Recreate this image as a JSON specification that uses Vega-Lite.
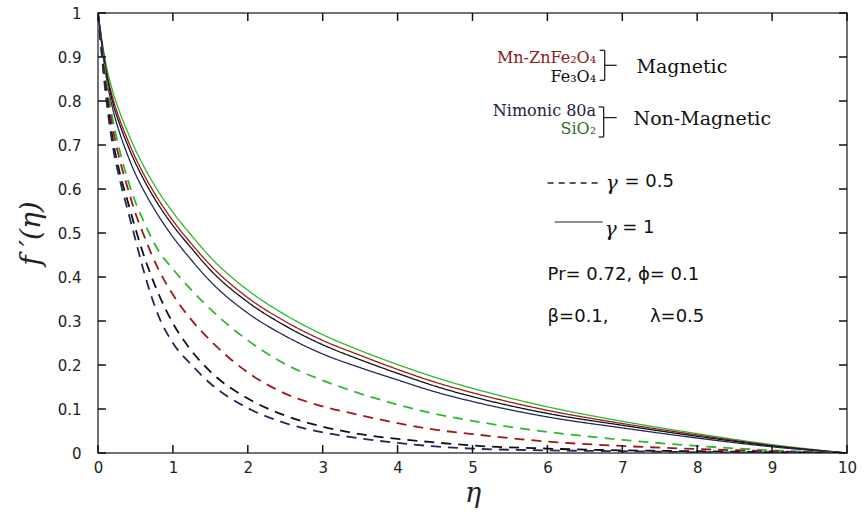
{
  "$schema": "https://vega.github.io/schema/vega-lite/v6.json",
  "width": 749,
  "height": 440,
  "autosize": "none",
  "padding": {"left": 98, "top": 13, "right": 18, "bottom": 62},
  "background": "white",
  "config": {
    "view": {"stroke": "#444", "strokeWidth": 1.5},
    "axis": {"labelFlush": false, "grid": false, "domain": false}
  },
  "datasets": {
    "xticks": [{"t":0},{"t":1},{"t":2},{"t":3},{"t":4},{"t":5},{"t":6},{"t":7},{"t":8},{"t":9},{"t":10}],
    "yticks": [{"t":0},{"t":0.1},{"t":0.2},{"t":0.3},{"t":0.4},{"t":0.5},{"t":0.6},{"t":0.7},{"t":0.8},{"t":0.9},{"t":1}],
    "curves": [
      {"m":"SiO2","g":1,"eta":0,"fp":1},{"m":"SiO2","g":1,"eta":0.1,"fp":0.89},{"m":"SiO2","g":1,"eta":0.2,"fp":0.82},{"m":"SiO2","g":1,"eta":0.3,"fp":0.77},{"m":"SiO2","g":1,"eta":0.4,"fp":0.728},{"m":"SiO2","g":1,"eta":0.5,"fp":0.689},{"m":"SiO2","g":1,"eta":0.6,"fp":0.655},{"m":"SiO2","g":1,"eta":0.8,"fp":0.596},{"m":"SiO2","g":1,"eta":1,"fp":0.547},{"m":"SiO2","g":1,"eta":1.25,"fp":0.494},{"m":"SiO2","g":1,"eta":1.5,"fp":0.445},{"m":"SiO2","g":1,"eta":2,"fp":0.37},{"m":"SiO2","g":1,"eta":2.5,"fp":0.314},{"m":"SiO2","g":1,"eta":3,"fp":0.269},{"m":"SiO2","g":1,"eta":3.5,"fp":0.233},{"m":"SiO2","g":1,"eta":4,"fp":0.201},{"m":"SiO2","g":1,"eta":4.5,"fp":0.172},{"m":"SiO2","g":1,"eta":5,"fp":0.147},{"m":"SiO2","g":1,"eta":6,"fp":0.105},{"m":"SiO2","g":1,"eta":7,"fp":0.072},{"m":"SiO2","g":1,"eta":8,"fp":0.044},{"m":"SiO2","g":1,"eta":9,"fp":0.019},{"m":"SiO2","g":1,"eta":10,"fp":0},
      {"m":"Mn-ZnFe2O4","g":1,"eta":0,"fp":1},{"m":"Mn-ZnFe2O4","g":1,"eta":0.1,"fp":0.88},{"m":"Mn-ZnFe2O4","g":1,"eta":0.2,"fp":0.805},{"m":"Mn-ZnFe2O4","g":1,"eta":0.3,"fp":0.753},{"m":"Mn-ZnFe2O4","g":1,"eta":0.4,"fp":0.71},{"m":"Mn-ZnFe2O4","g":1,"eta":0.5,"fp":0.671},{"m":"Mn-ZnFe2O4","g":1,"eta":0.6,"fp":0.637},{"m":"Mn-ZnFe2O4","g":1,"eta":0.8,"fp":0.578},{"m":"Mn-ZnFe2O4","g":1,"eta":1,"fp":0.528},{"m":"Mn-ZnFe2O4","g":1,"eta":1.25,"fp":0.475},{"m":"Mn-ZnFe2O4","g":1,"eta":1.5,"fp":0.427},{"m":"Mn-ZnFe2O4","g":1,"eta":2,"fp":0.353},{"m":"Mn-ZnFe2O4","g":1,"eta":2.5,"fp":0.299},{"m":"Mn-ZnFe2O4","g":1,"eta":3,"fp":0.256},{"m":"Mn-ZnFe2O4","g":1,"eta":3.5,"fp":0.222},{"m":"Mn-ZnFe2O4","g":1,"eta":4,"fp":0.19},{"m":"Mn-ZnFe2O4","g":1,"eta":4.5,"fp":0.161},{"m":"Mn-ZnFe2O4","g":1,"eta":5,"fp":0.137},{"m":"Mn-ZnFe2O4","g":1,"eta":6,"fp":0.097},{"m":"Mn-ZnFe2O4","g":1,"eta":7,"fp":0.067},{"m":"Mn-ZnFe2O4","g":1,"eta":8,"fp":0.041},{"m":"Mn-ZnFe2O4","g":1,"eta":9,"fp":0.017},{"m":"Mn-ZnFe2O4","g":1,"eta":10,"fp":0},
      {"m":"Fe3O4","g":1,"eta":0,"fp":1},{"m":"Fe3O4","g":1,"eta":0.1,"fp":0.875},{"m":"Fe3O4","g":1,"eta":0.2,"fp":0.795},{"m":"Fe3O4","g":1,"eta":0.3,"fp":0.742},{"m":"Fe3O4","g":1,"eta":0.4,"fp":0.698},{"m":"Fe3O4","g":1,"eta":0.5,"fp":0.659},{"m":"Fe3O4","g":1,"eta":0.6,"fp":0.625},{"m":"Fe3O4","g":1,"eta":0.8,"fp":0.566},{"m":"Fe3O4","g":1,"eta":1,"fp":0.517},{"m":"Fe3O4","g":1,"eta":1.25,"fp":0.465},{"m":"Fe3O4","g":1,"eta":1.5,"fp":0.416},{"m":"Fe3O4","g":1,"eta":2,"fp":0.343},{"m":"Fe3O4","g":1,"eta":2.5,"fp":0.289},{"m":"Fe3O4","g":1,"eta":3,"fp":0.246},{"m":"Fe3O4","g":1,"eta":3.5,"fp":0.212},{"m":"Fe3O4","g":1,"eta":4,"fp":0.181},{"m":"Fe3O4","g":1,"eta":4.5,"fp":0.152},{"m":"Fe3O4","g":1,"eta":5,"fp":0.128},{"m":"Fe3O4","g":1,"eta":6,"fp":0.09},{"m":"Fe3O4","g":1,"eta":7,"fp":0.063},{"m":"Fe3O4","g":1,"eta":8,"fp":0.038},{"m":"Fe3O4","g":1,"eta":9,"fp":0.016},{"m":"Fe3O4","g":1,"eta":10,"fp":0},
      {"m":"Nimonic 80a","g":1,"eta":0,"fp":1},{"m":"Nimonic 80a","g":1,"eta":0.1,"fp":0.865},{"m":"Nimonic 80a","g":1,"eta":0.2,"fp":0.78},{"m":"Nimonic 80a","g":1,"eta":0.3,"fp":0.722},{"m":"Nimonic 80a","g":1,"eta":0.4,"fp":0.675},{"m":"Nimonic 80a","g":1,"eta":0.5,"fp":0.634},{"m":"Nimonic 80a","g":1,"eta":0.6,"fp":0.6},{"m":"Nimonic 80a","g":1,"eta":0.8,"fp":0.541},{"m":"Nimonic 80a","g":1,"eta":1,"fp":0.491},{"m":"Nimonic 80a","g":1,"eta":1.25,"fp":0.438},{"m":"Nimonic 80a","g":1,"eta":1.5,"fp":0.39},{"m":"Nimonic 80a","g":1,"eta":2,"fp":0.318},{"m":"Nimonic 80a","g":1,"eta":2.5,"fp":0.266},{"m":"Nimonic 80a","g":1,"eta":3,"fp":0.225},{"m":"Nimonic 80a","g":1,"eta":3.5,"fp":0.194},{"m":"Nimonic 80a","g":1,"eta":4,"fp":0.166},{"m":"Nimonic 80a","g":1,"eta":4.5,"fp":0.139},{"m":"Nimonic 80a","g":1,"eta":5,"fp":0.117},{"m":"Nimonic 80a","g":1,"eta":6,"fp":0.082},{"m":"Nimonic 80a","g":1,"eta":7,"fp":0.057},{"m":"Nimonic 80a","g":1,"eta":8,"fp":0.034},{"m":"Nimonic 80a","g":1,"eta":9,"fp":0.014},{"m":"Nimonic 80a","g":1,"eta":10,"fp":0},
      {"m":"SiO2","g":0.5,"eta":0,"fp":1},{"m":"SiO2","g":0.5,"eta":0.1,"fp":0.86},{"m":"SiO2","g":0.5,"eta":0.2,"fp":0.755},{"m":"SiO2","g":0.5,"eta":0.3,"fp":0.68},{"m":"SiO2","g":0.5,"eta":0.4,"fp":0.62},{"m":"SiO2","g":0.5,"eta":0.5,"fp":0.57},{"m":"SiO2","g":0.5,"eta":0.6,"fp":0.53},{"m":"SiO2","g":0.5,"eta":0.8,"fp":0.462},{"m":"SiO2","g":0.5,"eta":1,"fp":0.418},{"m":"SiO2","g":0.5,"eta":1.25,"fp":0.37},{"m":"SiO2","g":0.5,"eta":1.5,"fp":0.327},{"m":"SiO2","g":0.5,"eta":2,"fp":0.256},{"m":"SiO2","g":0.5,"eta":2.5,"fp":0.202},{"m":"SiO2","g":0.5,"eta":3,"fp":0.165},{"m":"SiO2","g":0.5,"eta":3.5,"fp":0.135},{"m":"SiO2","g":0.5,"eta":4,"fp":0.11},{"m":"SiO2","g":0.5,"eta":4.5,"fp":0.089},{"m":"SiO2","g":0.5,"eta":5,"fp":0.073},{"m":"SiO2","g":0.5,"eta":6,"fp":0.048},{"m":"SiO2","g":0.5,"eta":7,"fp":0.03},{"m":"SiO2","g":0.5,"eta":8,"fp":0.016},{"m":"SiO2","g":0.5,"eta":9,"fp":0.006},{"m":"SiO2","g":0.5,"eta":10,"fp":0},
      {"m":"Mn-ZnFe2O4","g":0.5,"eta":0,"fp":1},{"m":"Mn-ZnFe2O4","g":0.5,"eta":0.1,"fp":0.845},{"m":"Mn-ZnFe2O4","g":0.5,"eta":0.2,"fp":0.735},{"m":"Mn-ZnFe2O4","g":0.5,"eta":0.3,"fp":0.66},{"m":"Mn-ZnFe2O4","g":0.5,"eta":0.4,"fp":0.6},{"m":"Mn-ZnFe2O4","g":0.5,"eta":0.5,"fp":0.545},{"m":"Mn-ZnFe2O4","g":0.5,"eta":0.6,"fp":0.5},{"m":"Mn-ZnFe2O4","g":0.5,"eta":0.8,"fp":0.42},{"m":"Mn-ZnFe2O4","g":0.5,"eta":1,"fp":0.36},{"m":"Mn-ZnFe2O4","g":0.5,"eta":1.25,"fp":0.302},{"m":"Mn-ZnFe2O4","g":0.5,"eta":1.5,"fp":0.256},{"m":"Mn-ZnFe2O4","g":0.5,"eta":2,"fp":0.183},{"m":"Mn-ZnFe2O4","g":0.5,"eta":2.5,"fp":0.135},{"m":"Mn-ZnFe2O4","g":0.5,"eta":3,"fp":0.106},{"m":"Mn-ZnFe2O4","g":0.5,"eta":3.5,"fp":0.086},{"m":"Mn-ZnFe2O4","g":0.5,"eta":4,"fp":0.068},{"m":"Mn-ZnFe2O4","g":0.5,"eta":4.5,"fp":0.053},{"m":"Mn-ZnFe2O4","g":0.5,"eta":5,"fp":0.043},{"m":"Mn-ZnFe2O4","g":0.5,"eta":6,"fp":0.026},{"m":"Mn-ZnFe2O4","g":0.5,"eta":7,"fp":0.016},{"m":"Mn-ZnFe2O4","g":0.5,"eta":8,"fp":0.009},{"m":"Mn-ZnFe2O4","g":0.5,"eta":9,"fp":0.004},{"m":"Mn-ZnFe2O4","g":0.5,"eta":10,"fp":0},
      {"m":"Fe3O4","g":0.5,"eta":0,"fp":1},{"m":"Fe3O4","g":0.5,"eta":0.1,"fp":0.83},{"m":"Fe3O4","g":0.5,"eta":0.2,"fp":0.71},{"m":"Fe3O4","g":0.5,"eta":0.3,"fp":0.63},{"m":"Fe3O4","g":0.5,"eta":0.4,"fp":0.57},{"m":"Fe3O4","g":0.5,"eta":0.5,"fp":0.51},{"m":"Fe3O4","g":0.5,"eta":0.6,"fp":0.455},{"m":"Fe3O4","g":0.5,"eta":0.8,"fp":0.365},{"m":"Fe3O4","g":0.5,"eta":1,"fp":0.295},{"m":"Fe3O4","g":0.5,"eta":1.25,"fp":0.232},{"m":"Fe3O4","g":0.5,"eta":1.5,"fp":0.185},{"m":"Fe3O4","g":0.5,"eta":2,"fp":0.124},{"m":"Fe3O4","g":0.5,"eta":2.5,"fp":0.085},{"m":"Fe3O4","g":0.5,"eta":3,"fp":0.06},{"m":"Fe3O4","g":0.5,"eta":3.5,"fp":0.043},{"m":"Fe3O4","g":0.5,"eta":4,"fp":0.032},{"m":"Fe3O4","g":0.5,"eta":4.5,"fp":0.024},{"m":"Fe3O4","g":0.5,"eta":5,"fp":0.017},{"m":"Fe3O4","g":0.5,"eta":6,"fp":0.01},{"m":"Fe3O4","g":0.5,"eta":7,"fp":0.006},{"m":"Fe3O4","g":0.5,"eta":8,"fp":0.004},{"m":"Fe3O4","g":0.5,"eta":9,"fp":0.002},{"m":"Fe3O4","g":0.5,"eta":10,"fp":0},
      {"m":"Nimonic 80a","g":0.5,"eta":0,"fp":1},{"m":"Nimonic 80a","g":0.5,"eta":0.1,"fp":0.82},{"m":"Nimonic 80a","g":0.5,"eta":0.2,"fp":0.695},{"m":"Nimonic 80a","g":0.5,"eta":0.3,"fp":0.615},{"m":"Nimonic 80a","g":0.5,"eta":0.4,"fp":0.55},{"m":"Nimonic 80a","g":0.5,"eta":0.5,"fp":0.485},{"m":"Nimonic 80a","g":0.5,"eta":0.6,"fp":0.42},{"m":"Nimonic 80a","g":0.5,"eta":0.8,"fp":0.315},{"m":"Nimonic 80a","g":0.5,"eta":1,"fp":0.25},{"m":"Nimonic 80a","g":0.5,"eta":1.25,"fp":0.2},{"m":"Nimonic 80a","g":0.5,"eta":1.5,"fp":0.158},{"m":"Nimonic 80a","g":0.5,"eta":2,"fp":0.102},{"m":"Nimonic 80a","g":0.5,"eta":2.5,"fp":0.068},{"m":"Nimonic 80a","g":0.5,"eta":3,"fp":0.047},{"m":"Nimonic 80a","g":0.5,"eta":3.5,"fp":0.033},{"m":"Nimonic 80a","g":0.5,"eta":4,"fp":0.023},{"m":"Nimonic 80a","g":0.5,"eta":4.5,"fp":0.015},{"m":"Nimonic 80a","g":0.5,"eta":5,"fp":0.01},{"m":"Nimonic 80a","g":0.5,"eta":6,"fp":0.006},{"m":"Nimonic 80a","g":0.5,"eta":7,"fp":0.004},{"m":"Nimonic 80a","g":0.5,"eta":8,"fp":0.002},{"m":"Nimonic 80a","g":0.5,"eta":9,"fp":0.001},{"m":"Nimonic 80a","g":0.5,"eta":10,"fp":0}
    ]
  },
  "layer": [
    {
      "data": {"name": "curves"},
      "mark": {"type": "line", "interpolate": "monotone", "clip": true},
      "encoding": {
        "x": {"field": "eta", "type": "quantitative",
          "scale": {"domain": [0, 10], "nice": false, "zero": false},
          "axis": {"orient": "bottom", "values": [0,1,2,3,4,5,6,7,8,9,10], "format": "d",
            "title": "η", "titleFont": "DejaVu Serif", "titleFontStyle": "italic", "titleFontWeight": "normal", "titleFontSize": 27, "titleColor": "#222", "titlePadding": 5,
            "labelFont": "DejaVu Sans", "labelFontSize": 15, "labelColor": "#222", "labelPadding": 7,
            "ticks": false}},
        "y": {"field": "fp", "type": "quantitative",
          "scale": {"domain": [0, 1], "nice": false, "zero": false},
          "axis": {"orient": "left", "values": [0,0.1,0.2,0.3,0.4,0.5,0.6,0.7,0.8,0.9,1], "format": "~g",
            "title": "f ′(η)", "titleFont": "DejaVu Serif", "titleFontStyle": "italic", "titleFontWeight": "normal", "titleFontSize": 28, "titleColor": "#222", "titlePadding": 12,
            "labelFont": "DejaVu Sans", "labelFontSize": 15, "labelColor": "#222", "labelPadding": 17,
            "ticks": false}},
        "color": {"field": "m", "type": "nominal", "legend": null,
          "scale": {"domain": ["SiO2", "Mn-ZnFe2O4", "Fe3O4", "Nimonic 80a"], "range": ["#2eb82e", "#a3151b", "#111111", "#1f2a5a"]}},
        "strokeDash": {"field": "g", "type": "ordinal", "legend": null,
          "scale": {"domain": [0.5, 1], "range": [[10, 7], [1, 0]]}},
        "strokeWidth": {"field": "g", "type": "ordinal", "legend": null,
          "scale": {"domain": [0.5, 1], "range": [1.8, 1.3]}}
      }
    },
    {"data": {"name": "xticks"}, "mark": {"type": "tick", "orient": "vertical", "color": "#111", "thickness": 1.5, "size": 8, "opacity": 1},
      "encoding": {"x": {"field": "t", "type": "quantitative"}, "y": {"datum": 0.009}}},
    {"data": {"name": "xticks"}, "mark": {"type": "tick", "orient": "vertical", "color": "#111", "thickness": 1.5, "size": 8, "opacity": 1},
      "encoding": {"x": {"field": "t", "type": "quantitative"}, "y": {"datum": 0.991}}},
    {"data": {"name": "yticks"}, "mark": {"type": "tick", "orient": "horizontal", "color": "#111", "thickness": 1.5, "size": 8, "opacity": 1},
      "encoding": {"y": {"field": "t", "type": "quantitative"}, "x": {"datum": 0.053}}},
    {"data": {"name": "yticks"}, "mark": {"type": "tick", "orient": "horizontal", "color": "#111", "thickness": 1.5, "size": 8, "opacity": 1},
      "encoding": {"y": {"field": "t", "type": "quantitative"}, "x": {"datum": 9.947}}},
    {"data": {"values": [{}]}, "mark": {"type": "text", "align": "right", "baseline": "middle", "font": "DejaVu Serif", "fontSize": 16, "color": "#8b1a1a", "text": "Mn-ZnFe₂O₄"},
      "encoding": {"x": {"datum": 6.65}, "y": {"datum": 0.897}}},
    {"data": {"values": [{}]}, "mark": {"type": "text", "align": "right", "baseline": "middle", "font": "DejaVu Serif", "fontSize": 16, "color": "#111", "text": "Fe₃O₄"},
      "encoding": {"x": {"datum": 6.65}, "y": {"datum": 0.8535}}},
    {"data": {"values": [{}]}, "mark": {"type": "text", "align": "right", "baseline": "middle", "font": "DejaVu Serif", "fontSize": 16, "color": "#1c2340", "text": "Nimonic 80a"},
      "encoding": {"x": {"datum": 6.65}, "y": {"datum": 0.777}}},
    {"data": {"values": [{}]}, "mark": {"type": "text", "align": "right", "baseline": "middle", "font": "DejaVu Serif", "fontSize": 16, "color": "#3b6b2b", "text": "SiO₂"},
      "encoding": {"x": {"datum": 6.65}, "y": {"datum": 0.736}}},
    {"data": {"values": [{}]}, "mark": {"type": "text", "align": "left", "baseline": "middle", "font": "DejaVu Serif", "fontSize": 19, "color": "#111", "text": "Magnetic"},
      "encoding": {"x": {"datum": 7.19}, "y": {"datum": 0.877}}},
    {"data": {"values": [{}]}, "mark": {"type": "text", "align": "left", "baseline": "middle", "font": "DejaVu Serif", "fontSize": 19, "color": "#111", "text": "Non-Magnetic"},
      "encoding": {"x": {"datum": 7.15}, "y": {"datum": 0.76}}},
    {"data": {"values": [{}]}, "mark": {"type": "rule", "color": "#222", "strokeWidth": 1.3},
      "encoding": {"x": {"datum": 6.765}, "y": {"datum": 0.9152}, "y2": {"datum": 0.847}}},
    {"data": {"values": [{}]}, "mark": {"type": "rule", "color": "#222", "strokeWidth": 1.3},
      "encoding": {"x": {"datum": 6.698}, "x2": {"datum": 6.765}, "y": {"datum": 0.9152}}},
    {"data": {"values": [{}]}, "mark": {"type": "rule", "color": "#222", "strokeWidth": 1.3},
      "encoding": {"x": {"datum": 6.698}, "x2": {"datum": 6.765}, "y": {"datum": 0.847}}},
    {"data": {"values": [{}]}, "mark": {"type": "rule", "color": "#222", "strokeWidth": 1.3},
      "encoding": {"x": {"datum": 6.765}, "x2": {"datum": 6.925}, "y": {"datum": 0.8811}}},
    {"data": {"values": [{}]}, "mark": {"type": "rule", "color": "#222", "strokeWidth": 1.3},
      "encoding": {"x": {"datum": 6.751}, "y": {"datum": 0.7864}, "y2": {"datum": 0.7182}}},
    {"data": {"values": [{}]}, "mark": {"type": "rule", "color": "#222", "strokeWidth": 1.3},
      "encoding": {"x": {"datum": 6.684}, "x2": {"datum": 6.751}, "y": {"datum": 0.7864}}},
    {"data": {"values": [{}]}, "mark": {"type": "rule", "color": "#222", "strokeWidth": 1.3},
      "encoding": {"x": {"datum": 6.684}, "x2": {"datum": 6.751}, "y": {"datum": 0.7182}}},
    {"data": {"values": [{}]}, "mark": {"type": "rule", "color": "#222", "strokeWidth": 1.3},
      "encoding": {"x": {"datum": 6.751}, "x2": {"datum": 6.925}, "y": {"datum": 0.7623}}},
    {"data": {"values": [{}]}, "mark": {"type": "rule", "color": "#222", "strokeWidth": 1.3, "strokeDash": [6, 5]},
      "encoding": {"x": {"datum": 6.003}, "x2": {"datum": 6.671}, "y": {"datum": 0.6136}}},
    {"data": {"values": [{}]}, "mark": {"type": "rule", "color": "#222", "strokeWidth": 1.1},
      "encoding": {"x": {"datum": 6.096}, "x2": {"datum": 6.738}, "y": {"datum": 0.525}}},
    {"data": {"values": [{}]}, "mark": {"type": "text", "align": "left", "baseline": "middle", "font": "DejaVu Serif", "fontStyle": "italic", "fontSize": 20, "color": "#111", "text": "γ"},
      "encoding": {"x": {"datum": 6.778}, "y": {"datum": 0.612}}},
    {"data": {"values": [{}]}, "mark": {"type": "text", "align": "left", "baseline": "middle", "font": "DejaVu Sans", "fontSize": 18, "color": "#111", "text": "= 0.5"},
      "encoding": {"x": {"datum": 7.03}, "y": {"datum": 0.6159}}},
    {"data": {"values": [{}]}, "mark": {"type": "text", "align": "left", "baseline": "middle", "font": "DejaVu Serif", "fontStyle": "italic", "fontSize": 20, "color": "#111", "text": "γ"},
      "encoding": {"x": {"datum": 6.765}, "y": {"datum": 0.507}}},
    {"data": {"values": [{}]}, "mark": {"type": "text", "align": "left", "baseline": "middle", "font": "DejaVu Sans", "fontSize": 18, "color": "#111", "text": "= 1"},
      "encoding": {"x": {"datum": 7.0}, "y": {"datum": 0.5107}}},
    {"data": {"values": [{}]}, "mark": {"type": "text", "align": "left", "baseline": "middle", "font": "DejaVu Sans", "fontSize": 18, "color": "#111", "text": "Pr= 0.72, ϕ= 0.1"},
      "encoding": {"x": {"datum": 6.003}, "y": {"datum": 0.4039}}},
    {"data": {"values": [{}]}, "mark": {"type": "text", "align": "left", "baseline": "middle", "font": "DejaVu Sans", "fontSize": 18, "color": "#111", "text": "β=0.1,"},
      "encoding": {"x": {"datum": 6.003}, "y": {"datum": 0.309}}},
    {"data": {"values": [{}]}, "mark": {"type": "text", "align": "left", "baseline": "middle", "font": "DejaVu Sans", "fontSize": 18, "color": "#111", "text": "λ=0.5"},
      "encoding": {"x": {"datum": 7.369}, "y": {"datum": 0.309}}}
  ]
}
